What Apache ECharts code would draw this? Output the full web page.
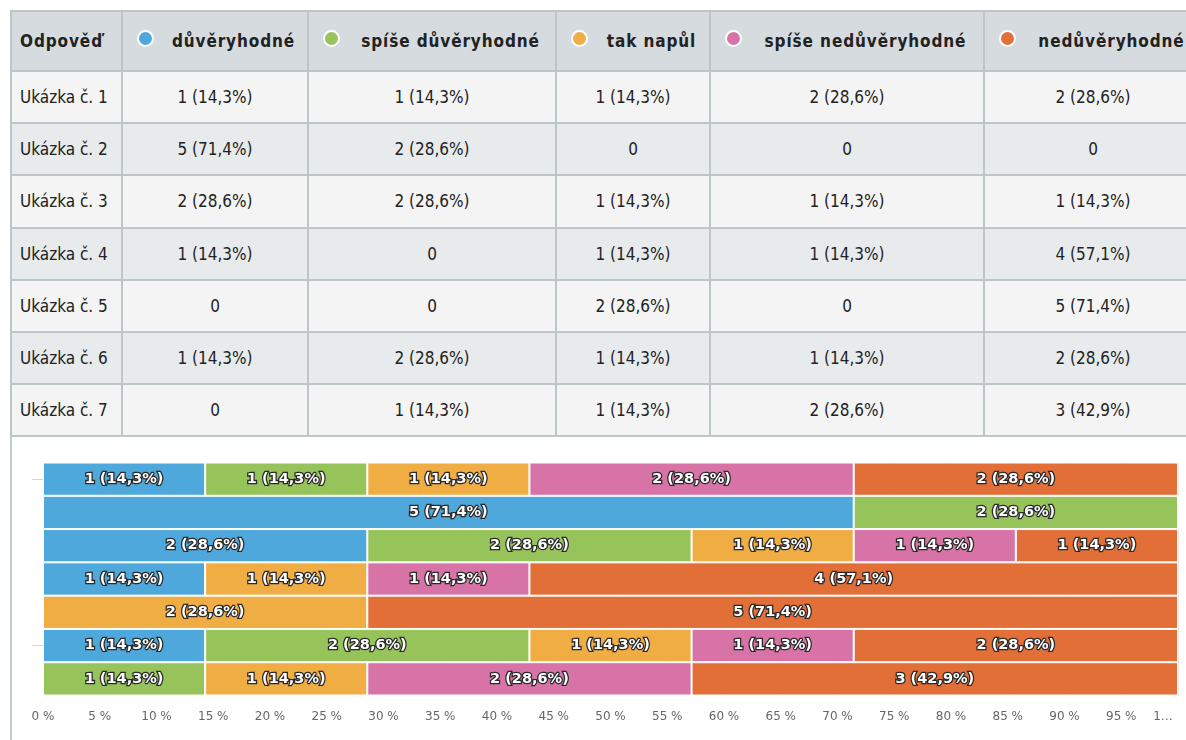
<!DOCTYPE html>
<html>
<head>
<meta charset="utf-8">
<script src="https://cdn.jsdelivr.net/npm/echarts@6/dist/echarts.min.js"></script>
<style>
  html, body { margin: 0; padding: 0; background: #fff; width: 1186px; height: 740px; overflow: hidden; }
  #wrap { position: absolute; left: 0; top: 0; width: 1186px; height: 740px; overflow: hidden; }
  table { position: absolute; left: 10px; top: 10px; width: 1191px; border-collapse: collapse; table-layout: fixed;
          font-family: "DejaVu Sans Condensed", "DejaVu Sans", sans-serif; color: #222; }
  td, th { border: 2px solid #bcc5c8; padding: 0; font-size: 17px; white-space: nowrap; overflow: hidden; }
  th { background: #d5dbde; height: 58px; font-weight: bold; letter-spacing: 0.9px; }
  td { height: 50.2px; text-align: center; }
  td.first { text-align: left; padding-left: 8px; }
  th.first { text-align: left; padding-left: 8px; }
  tr.odd td { background: #f4f4f4; }
  tr.even td { background: #e8ebec; }
  .hd { display: flex; align-items: center; padding-left: 14px; }
  .dot { width: 17px; height: 17px; border-radius: 50%; border: 2px solid #fff; box-sizing: border-box; flex: none; margin-top: -6px; }
  .hd span.t { flex: 1; text-align: center; padding-left: 6px; }
  #vline { position: absolute; left: 10px; top: 435px; width: 2px; height: 305px; background: #c3cbcd; }
  #chart { position: absolute; left: 0; top: 435px; width: 1186px; height: 305px; }
</style>
</head>
<body>
<div id="wrap">
  <table id="tbl"></table>
  <div id="vline"></div>
  <div id="chart"></div>
</div>
<script>
// ---- data ----
const headerFirst = 'Odpověď';
const categories = ['Ukázka č. 1', 'Ukázka č. 2', 'Ukázka č. 3', 'Ukázka č. 4', 'Ukázka č. 5', 'Ukázka č. 6', 'Ukázka č. 7'];
const seriesNames = ['důvěryhodné', 'spíše důvěryhodné', 'tak napůl', 'spíše nedůvěryhodné', 'nedůvěryhodné'];
const seriesColors = ['#4fa8dc', '#97c45a', '#f0ad44', '#d873a7', '#e26e38'];
const duveryhodne        = [1, 5, 2, 1, 0, 1, 0];
const spiseDuveryhodne   = [1, 2, 2, 0, 0, 2, 1];
const takNapul           = [1, 0, 1, 1, 2, 1, 1];
const spiseNeduveryhodne = [2, 0, 1, 1, 0, 1, 2];
const neduveryhodne      = [2, 0, 1, 4, 5, 2, 3];
const respondents = 7;
const xTicks = [0, 5, 10, 15, 20, 25, 30, 35, 40, 45, 50, 55, 60, 65, 70, 75, 80, 85, 90, 95, 100];

const seriesCounts = [duveryhodne, spiseDuveryhodne, takNapul, spiseNeduveryhodne, neduveryhodne];

function pctText(c) {
  return (c / respondents * 100).toFixed(1).replace('.', ',');
}
function cellText(c) {
  return c === 0 ? '0' : c + ' (' + pctText(c) + '%)';
}

// ---- table ----
const colWidths = [111, 186, 248, 154, 274, 218];
const tbl = document.getElementById('tbl');
let html = '<colgroup>' + colWidths.map(w => '<col style="width:' + w + 'px">').join('') + '</colgroup>';
html += '<tr><th class="first">' + headerFirst + '</th>';
seriesNames.forEach((n, i) => {
  html += '<th><div class="hd"><span class="dot" style="background:' + seriesColors[i] + '"></span><span class="t">' + n + '</span></div></th>';
});
html += '</tr>';
categories.forEach((c, r) => {
  html += '<tr class="' + (r % 2 === 0 ? 'odd' : 'even') + '"><td class="first">' + c + '</td>';
  seriesCounts.forEach(arr => { html += '<td>' + cellText(arr[r]) + '</td>'; });
  html += '</tr>';
});
tbl.innerHTML = html;

// ---- chart ----
const chart = echarts.init(document.getElementById('chart'), null, { renderer: 'canvas' });
const series = seriesNames.map((name, si) => ({
  name: name,
  type: 'bar',
  stack: 'total',
  barWidth: '100%',
  data: seriesCounts[si].map(c => ({ value: c / respondents * 100, count: c })),
  itemStyle: { color: seriesColors[si], borderColor: '#ffffff', borderWidth: 1 },
  label: {
    show: true,
    position: 'inside',
    color: '#ffffff',
    fontFamily: 'DejaVu Sans',
    fontWeight: 'bold',
    fontSize: 14.5,
    textBorderColor: '#2a2a2a',
    textBorderWidth: 2.6,
    formatter: p => p.data.count > 0 ? p.data.count + ' (' + pctText(p.data.count) + '%)' : ''
  },
  emphasis: { disabled: true }
}));

chart.setOption({
  animation: false,
  grid: { left: 43, right: 8, top: 27.5, bottom: 44.5, containLabel: false },
  xAxis: {
    type: 'value',
    min: 0,
    max: 100,
    interval: 5,
    axisLine: { show: false },
    axisTick: { show: false },
    splitLine: { show: true, lineStyle: { color: '#e6e6e6', width: 1 } },
    axisLabel: {
      color: '#666666',
      fontFamily: 'DejaVu Sans',
      fontSize: 12,
      margin: 15,
      formatter: v => xTicks.indexOf(v) === xTicks.length - 1 ? '{t|1…}' : v + ' %',
      rich: { t: { color: '#666666', fontFamily: 'DejaVu Sans', fontSize: 12, padding: [0, 30, 0, 0] } }
    }
  },
  yAxis: {
    type: 'category',
    inverse: true,
    data: categories,
    axisLine: { show: false },
    axisLabel: { show: false },
    axisTick: { show: true, alignWithLabel: true, interval: 4, length: 11, lineStyle: { color: '#ccd6eb' } },
    splitLine: { show: false }
  },
  series: series
});
</script>
</body>
</html>
